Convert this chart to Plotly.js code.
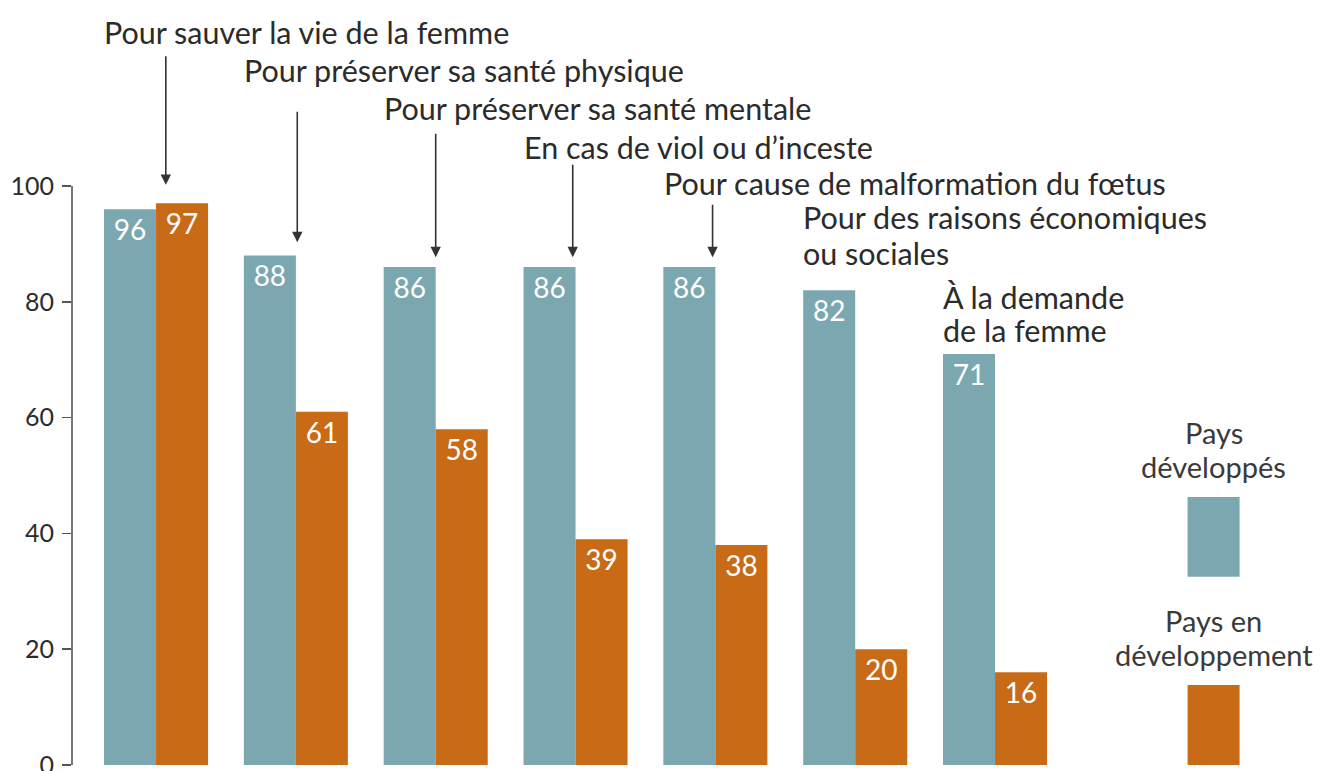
<!DOCTYPE html>
<html>
<head>
<meta charset="utf-8">
<script src="https://cdn.plot.ly/plotly-3.0.1.min.js"></script>
<style>
html,body{margin:0;padding:0;background:#fff;}
#chart{width:1335px;height:771px;}
</style>
</head>
<body>
<div id="chart"></div>
<script>
const categories = [
  "Pour sauver la vie de la femme",
  "Pour préserver sa santé physique",
  "Pour préserver sa santé mentale",
  "En cas de viol ou d’inceste",
  "Pour cause de malformation du fœtus",
  "Pour des raisons économiques<br>ou sociales",
  "À la demande<br>de la femme"
];
const developpes = [96, 88, 86, 86, 86, 82, 71];
const enDeveloppement = [97, 61, 58, 39, 38, 20, 16];
const seriesNames = ["Pays<br>développés", "Pays en<br>développement"];
const yTicks = [0, 20, 40, 60, 80, 100];

const TEAL = "#7ba8b0";
const ORANGE = "#c86a16";
const INK = "#2b2b2b";
const FONT = "Lato, 'Open Sans', sans-serif";

const idx = categories.map((_, i) => i);

const traces = [
  {
    type: "bar", x: idx, y: developpes, name: seriesNames[0],
    marker: {color: TEAL},
    text: developpes.map(String), textposition: "inside", insidetextanchor: "end",
    textfont: {color: "#fff", size: 28, family: FONT}, constraintext: "none",
    hoverinfo: "skip"
  },
  {
    type: "bar", x: idx, y: enDeveloppement, name: seriesNames[1],
    marker: {color: ORANGE},
    text: enDeveloppement.map(String), textposition: "inside", insidetextanchor: "end",
    textfont: {color: "#fff", size: 28, family: FONT}, constraintext: "none",
    hoverinfo: "skip"
  }
];

// label layout: y (axis units) of each text line
const labelLineY = [[126.6], [120.0], [113.5], [106.7], [100.5], [94.6, 88.4], [80.8, 75.1]];
const annotations = [];
categories.forEach((c, i) => {
  c.split("<br>").forEach((line, k) => {
    annotations.push({
      x: i - 0.385, y: labelLineY[i][k], xref: "x", yref: "y",
      xanchor: "left", yanchor: "middle", align: "left",
      text: line, showarrow: false,
      font: {size: 30.5, color: INK, family: FONT}
    });
  });
});
// arrows for the first five categories
const arrowDx = [0.07, 0.01, 0.0, -0.02, -0.02];
const arrowTipPad = [3.2, 2.3, 1.7, 1.7, 1.7];
const arrowLen = [130, 132, 125, 94, 54];
for (let i = 0; i < 5; i++) {
  const tipVal = Math.max(developpes[i], enDeveloppement[i]) + arrowTipPad[i];
  annotations.push({
    x: i + arrowDx[i], y: tipVal, xref: "x", yref: "y",
    text: "", showarrow: true, ax: 0, ay: -arrowLen[i],
    arrowhead: 2, arrowsize: 1.3, arrowwidth: 1.6, arrowcolor: "#333"
  });
}
// legend text
const legX = 7.563;
const legLineY = [[57.5, 51.5], [25.0, 19.0]];
seriesNames.forEach((s, j) => {
  s.split("<br>").forEach((line, k) => {
    annotations.push({
      x: legX, y: legLineY[j][k], xref: "x", yref: "y", xanchor: "center", yanchor: "middle",
      text: line, showarrow: false, align: "center",
      font: {size: 29, color: "#3a3a3a", family: FONT}
    });
  });
});

const shapes = [
  // y axis line spanning 0..100
  {type: "line", xref: "paper", yref: "y", x0: 0, x1: 0, y0: 0, y1: 100,
   line: {color: "#555", width: 1.6}},
  // legend swatches
  {type: "rect", xref: "x", yref: "y", x0: legX - 0.186, x1: legX + 0.186, y0: 32.5, y1: 46.3,
   line: {width: 0}, fillcolor: TEAL},
  {type: "rect", xref: "x", yref: "y", x0: legX - 0.186, x1: legX + 0.186, y0: 0, y1: 13.8,
   line: {width: 0}, fillcolor: ORANGE}
];

const layout = {
  width: 1335, height: 771,
  margin: {l: 72, r: 35, t: 0, b: 6},
  paper_bgcolor: "#fff", plot_bgcolor: "#fff",
  barmode: "group", bargap: 0.256, bargroupgap: 0,
  showlegend: false,
  font: {family: FONT, color: INK},
  xaxis: {range: [-0.601, 8.181], visible: false, fixedrange: true},
  yaxis: {
    range: [0, 132.12], showgrid: false, zeroline: false, showline: false,
    tickmode: "array", tickvals: yTicks, ticktext: yTicks.map(String),
    ticks: "outside", ticklen: 9, tickwidth: 1.6, tickcolor: "#555",
    ticklabeloverflow: "allow", ticklabelstandoff: 3,
    tickfont: {size: 25, color: INK, family: FONT}, fixedrange: true
  },
  annotations: annotations,
  shapes: shapes
};

Plotly.newPlot("chart", traces, layout, {displayModeBar: false, staticPlot: true});
</script>
</body>
</html>
